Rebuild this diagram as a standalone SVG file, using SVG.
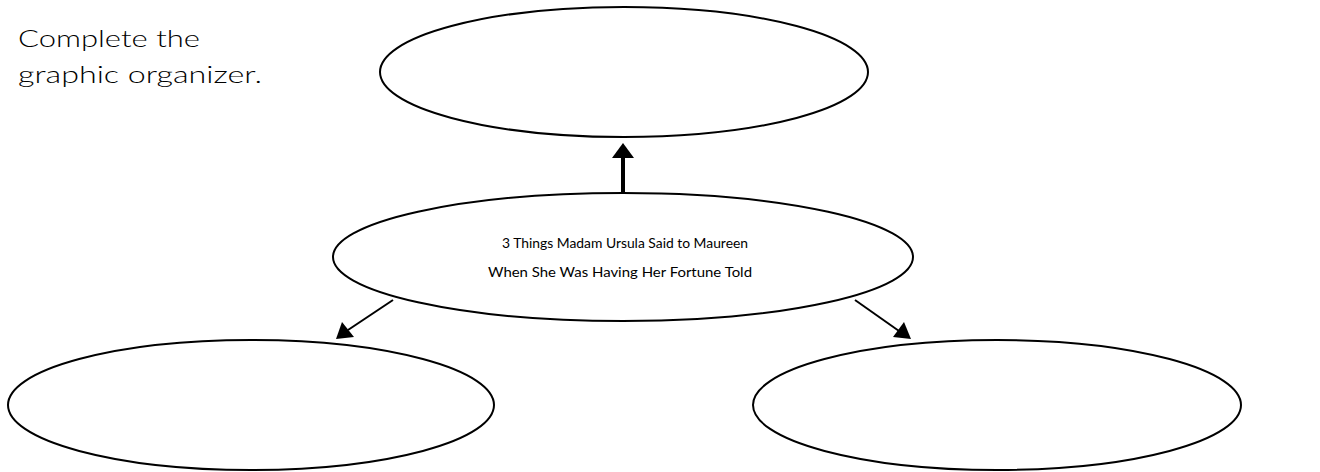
<svg xmlns="http://www.w3.org/2000/svg" width="1320" height="472" viewBox="0 0 1320 472">
<defs>
<style>
.node{fill:#fff;stroke:#000;stroke-width:2}
.lbl{font-family:"Lato","Liberation Sans",sans-serif;font-weight:300;fill:#000}
.lbl2{font-family:"Lato","Liberation Sans",sans-serif;font-weight:400;fill:#000}
.conn{stroke:#000;fill:none}
</style>
</defs>
<rect width="1320" height="472" fill="#fff"/>
<g id="title">
<text class="lbl" x="18" y="47" font-size="23" textLength="182" lengthAdjust="spacingAndGlyphs">Complete the</text>
<text class="lbl" x="18" y="83" font-size="23" textLength="244" lengthAdjust="spacingAndGlyphs">graphic organizer.</text>
</g>
<g id="connectors">
<line class="conn" x1="623" y1="193" x2="623" y2="158" stroke-width="4"/>
<path d="M612,158 L623,143 L634,158 z" fill="#000"/>
<line class="conn" x1="393" y1="300" x2="348" y2="330" stroke-width="2"/>
<path d="M336,339 L342,322 L354,337 z" fill="#000"/>
<line class="conn" x1="855" y1="300" x2="899" y2="331" stroke-width="2"/>
<path d="M911,339 L893,337 L904,322 z" fill="#000"/>
</g>
<g id="node-top">
<ellipse class="node" cx="624" cy="72" rx="244" ry="65"/>
</g>
<g id="node-center">
<ellipse class="node" cx="623" cy="257" rx="290" ry="64"/>
<text class="lbl2" x="625" y="248" font-size="14" text-anchor="middle" textLength="246" lengthAdjust="spacingAndGlyphs">3 Things Madam Ursula Said to Maureen</text>
<text class="lbl2" x="620" y="277" font-size="14" text-anchor="middle" textLength="264" lengthAdjust="spacingAndGlyphs">When She Was Having Her Fortune Told</text>
</g>
<g id="node-left">
<ellipse class="node" cx="251" cy="405" rx="243" ry="65"/>
</g>
<g id="node-right">
<ellipse class="node" cx="997" cy="405" rx="244" ry="65"/>
</g>
</svg>
